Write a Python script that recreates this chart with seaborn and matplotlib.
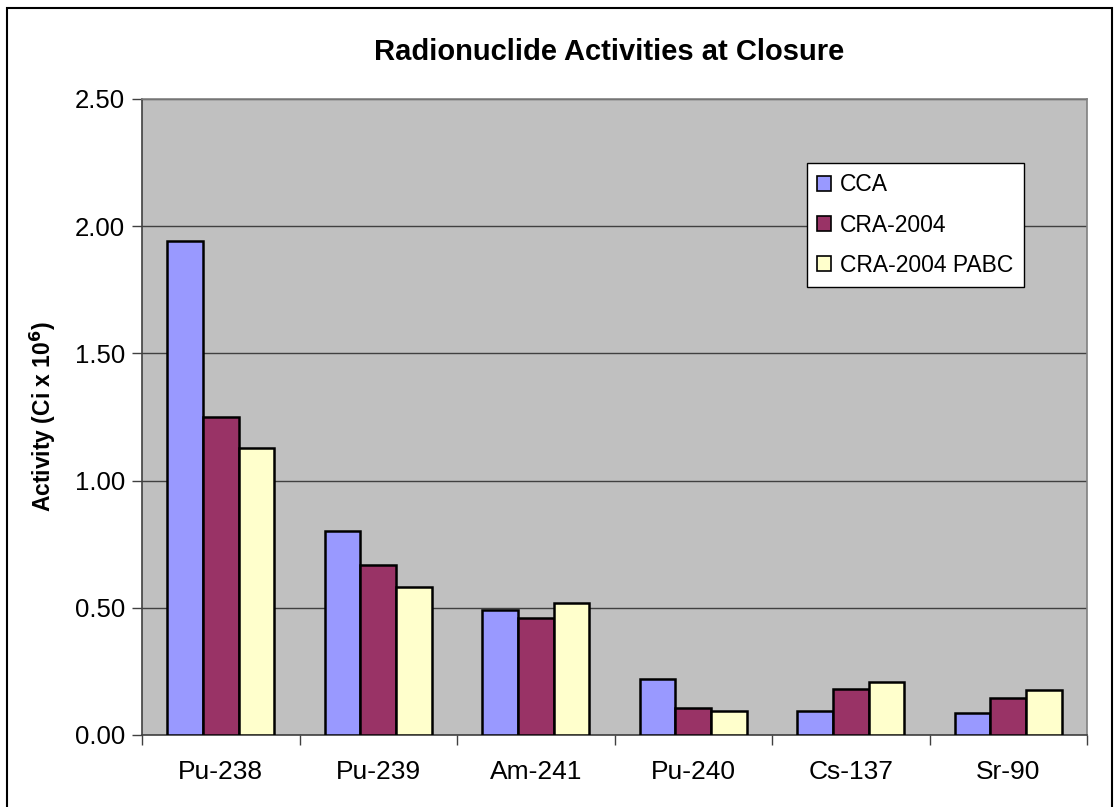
import pandas as pd
import numpy as np
import seaborn as sns
import matplotlib.pyplot as plt
from matplotlib.patches import Rectangle
from matplotlib.ticker import FixedLocator

nuclides = ["Pu-238", "Pu-239", "Am-241", "Pu-240", "Cs-137", "Sr-90"]
series = ["CCA", "CRA-2004", "CRA-2004 PABC"]
cca = [1.94, 0.80, 0.49, 0.22, 0.095, 0.087]
cra = [1.25, 0.67, 0.46, 0.108, 0.18, 0.146]
pabc = [1.13, 0.58, 0.52, 0.095, 0.21, 0.175]
colors = ["#9999FF", "#993366", "#FFFFCC"]

df = pd.DataFrame({"Nuclide": nuclides, "CCA": cca, "CRA-2004": cra, "CRA-2004 PABC": pabc})
df = df.melt(id_vars="Nuclide", var_name="Series", value_name="Activity")

sns.set_style("white")
plt.rcParams["font.family"] = ["Liberation Sans", "DejaVu Sans"]
plt.rcParams.update({"text.color": "black", "axes.labelcolor": "black",
                     "xtick.color": "black", "ytick.color": "black"})

fig = plt.figure(figsize=(11.18, 8.07), dpi=100)
ax = fig.add_axes([142/1118, 72/807, (1087-142)/1118, (735-99)/807])
ax.set_facecolor("#C0C0C0")

sns.barplot(data=df, x="Nuclide", y="Activity", hue="Series", order=nuclides,
            hue_order=series, palette=colors, width=0.68, gap=0,
            edgecolor="black", linewidth=1.8, saturation=1, ax=ax, zorder=3)

ax.set_ylim(0, 2.5)
ax.set_xlim(-0.5, len(nuclides) - 0.5)
ax.set_yticks(np.arange(0, 2.51, 0.5))
ax.set_yticklabels([f"{v:.2f}" for v in np.arange(0, 2.51, 0.5)])
ax.yaxis.grid(True, color="#404040", linewidth=1.0, zorder=0)
ax.set_axisbelow(True)

ax.xaxis.set_minor_locator(FixedLocator(np.arange(-0.5, len(nuclides), 1.0)))
ax.tick_params(axis="x", which="major", length=0, pad=18, labelsize=19)
ax.tick_params(axis="x", which="minor", length=7, width=1, color="#404040", direction="out", bottom=True)
ax.tick_params(axis="y", length=7, width=1, color="#404040", direction="out", left=True,
               labelsize=18.5, pad=5, labelcolor="black")
ax.tick_params(axis="x", labelcolor="black")

for s in ["left", "bottom"]:
    ax.spines[s].set_color("#404040")
    ax.spines[s].set_linewidth(1.2)
for s in ["top", "right"]:
    ax.spines[s].set_color("#808080")
    ax.spines[s].set_linewidth(1.2)

ax.set_xlabel("")
ax.set_ylabel(r"Activity (Ci x 10$^{\mathbf{6}}$)", fontsize=16.5, fontweight="bold", labelpad=12)
fig.text(0.545, 0.935, "Radionuclide Activities at Closure", ha="center", va="center",
         fontsize=21, fontweight="bold")

leg = ax.legend(loc="upper left", bbox_to_anchor=((807-142)/945, 1-(163-99)/636),
                frameon=True, fancybox=False, edgecolor="black", framealpha=1,
                fontsize=16.5, handlelength=0.6, handleheight=0.6, handletextpad=0.4,
                labelspacing=0.75, borderpad=0.45, borderaxespad=0)
leg.get_frame().set_linewidth(1.0)
for h in leg.legend_handles:
    h.set_edgecolor("black")
    h.set_linewidth(1.2)

fig.patches.append(Rectangle((7/1118, -0.01), (1112-7)/1118, 1.01 - 8/807,
                             transform=fig.transFigure, fill=False,
                             edgecolor="black", linewidth=1.5))

fig.savefig("out.png", dpi=100)
